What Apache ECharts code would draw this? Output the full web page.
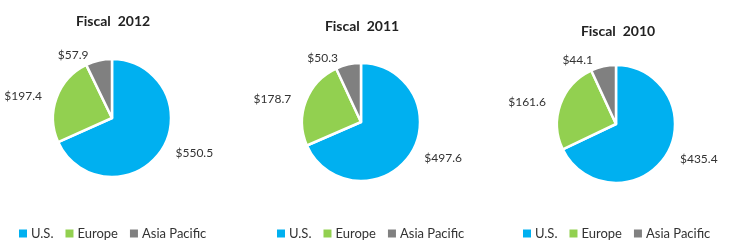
<!DOCTYPE html>
<html><head><meta charset="utf-8">
<script src="https://cdn.jsdelivr.net/npm/echarts@6/dist/echarts.min.js"></script>
<style>html,body{margin:0;padding:0;background:#fff}#c{width:732px;height:248px}</style>
</head><body><div id="c"></div>
<script>
const regions = ['U.S.', 'Europe', 'Asia Pacific'];
const years = ['Fiscal  2012', 'Fiscal  2011', 'Fiscal  2010'];
const fy2012 = [550.5, 197.4, 57.9];
const fy2011 = [497.6, 178.7, 50.3];
const fy2010 = [435.4, 161.6, 44.1];
const colors = ['#00B0F0', '#92D050', '#808080'];

const allData = [fy2012, fy2011, fy2010];
const centers = [[112, 118], [361, 122], [616, 124]];
const titlePos = [[108, 9], [357, 14], [613, 19]];
const legendLeft = [12, 270, 516];
const font = 'Lato, "Open Sans", sans-serif';

const chart = echarts.init(document.getElementById('c'));
chart.setOption({
  animation: false,
  color: colors,
  title: years.map((t, i) => ({
    text: t, left: titlePos[i][0], top: titlePos[i][1], textAlign: 'center',
    textStyle: {fontSize: 14, fontWeight: 'bold', color: '#222', fontFamily: font}
  })),
  legend: legendLeft.map(l => ({
    data: regions, left: l, top: 222, icon: 'rect', itemWidth: 10, itemHeight: 10, itemGap: 10,
    textStyle: {fontSize: 13, color: '#333', fontFamily: font, padding: [0, 0, 0, -2]}
  })),
  series: allData.map((vals, i) => ({
    type: 'pie',
    center: centers[i],
    radius: 59,
    startAngle: 90,
    clockwise: true,
    itemStyle: {borderColor: '#fff', borderWidth: 2.5},
    label: {show: true, position: 'outside', formatter: p => '$' + p.value.toFixed(1),
      fontSize: 12, color: '#333', fontFamily: font, overflow: 'none'},
    labelLine: {show: false, length: 6, length2: 4},
    data: regions.map((r, j) => ({name: r, value: vals[j]}))
  }))
});
</script></body></html>
